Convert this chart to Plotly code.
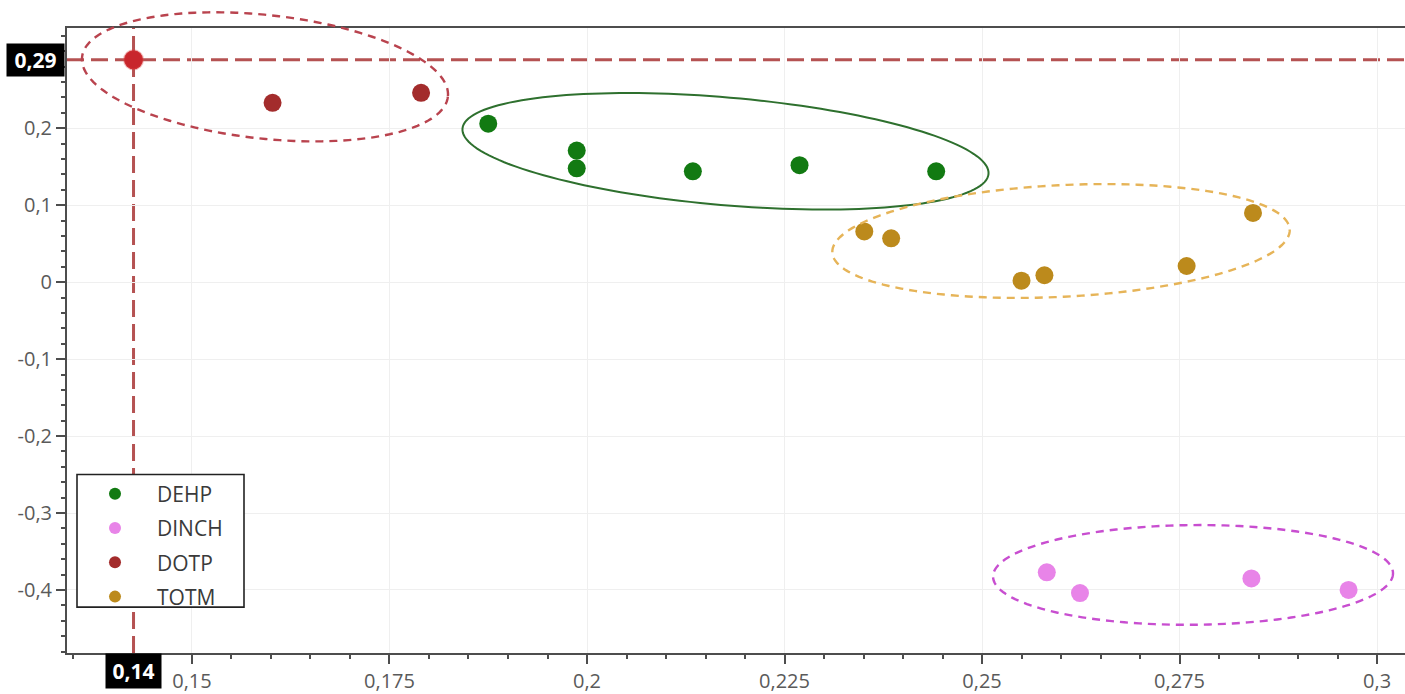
import math
import plotly.graph_objects as go

# ---------------- data ----------------
DEHP_x = [0.1875, 0.1987, 0.1987, 0.2134, 0.2269, 0.2442]
DEHP_y = [0.206, 0.171, 0.148, 0.144, 0.152, 0.144]
DINCH_x = [0.2582, 0.2624, 0.2841, 0.2964]
DINCH_y = [-0.377, -0.404, -0.385, -0.400]
DOTP_x = [0.1426, 0.1602, 0.1790]
DOTP_y = [0.289, 0.233, 0.246]
TOTM_x = [0.2351, 0.2385, 0.2550, 0.2579, 0.2759, 0.2843]
TOTM_y = [0.066, 0.057, 0.002, 0.009, 0.021, 0.090]

X_TICKS = [0.15, 0.175, 0.2, 0.225, 0.25, 0.275, 0.3]
X_TICKTEXT = ["0,15", "0,175", "0,2", "0,225", "0,25", "0,275", "0,3"]
Y_TICKS = [-0.4, -0.3, -0.2, -0.1, 0.0, 0.1, 0.2]
Y_TICKTEXT = ["-0,4", "-0,3", "-0,2", "-0,1", "0", "0,1", "0,2"]

# ---------------- layout geometry ----------------
FIG_W, FIG_H = 1405, 694
M_L, M_R, M_T, M_B = 67, 0, 28, 39
PLOT_W = FIG_W - M_L - M_R
PLOT_H = FIG_H - M_T - M_B
X_RANGE = [0.13418, 0.30354]
Y_RANGE = [-0.4819, 0.3303]


def to_px(x, y):
    px = M_L + (x - X_RANGE[0]) / (X_RANGE[1] - X_RANGE[0]) * PLOT_W
    py = M_T + (Y_RANGE[1] - y) / (Y_RANGE[1] - Y_RANGE[0]) * PLOT_H
    return px, py


def px_to_paper(px, py):
    return (px - M_L) / PLOT_W, (M_T + PLOT_H - py) / PLOT_H


def ellipse_path(cx, cy, a, b, theta_deg, n=160):
    cpx, cpy = to_px(cx, cy)
    t = math.radians(theta_deg)
    pts = []
    for i in range(n):
        phi = 2 * math.pi * i / n
        ex, ey = a * math.cos(phi), b * math.sin(phi)
        px = cpx + ex * math.cos(t) - ey * math.sin(t)
        py = cpy + ex * math.sin(t) + ey * math.cos(t)
        pts.append(px_to_paper(px, py))
    return "M " + " L ".join(f"{x:.5f},{y:.5f}" for x, y in pts) + " Z"


COLORS = {"DEHP": "#127a12", "DINCH": "#e884e8", "DOTP": "#a32c2c", "TOTM": "#bc8a1c"}

series = [("DEHP", DEHP_x, DEHP_y), ("DINCH", DINCH_x, DINCH_y),
          ("DOTP", DOTP_x, DOTP_y), ("TOTM", TOTM_x, TOTM_y)]

fig = go.Figure()
for i, (name, xs, ys) in enumerate(series):
    fig.add_trace(go.Scatter(
        x=xs, y=ys, mode="markers", name=name, legendgroup=name,
        marker=dict(size=18, color=COLORS[name], line=dict(width=0)),
    ))

# highlighted (selected) point
fig.add_trace(go.Scatter(
    x=[DOTP_x[0]], y=[DOTP_y[0]], mode="markers", showlegend=False,
    marker=dict(size=19, color="#c8262c", line=dict(width=2, color="rgba(220,70,70,0.35)")),
))

# ---------------- shapes ----------------
shapes = []
cross = dict(color="rgba(168,52,52,0.85)", width=3, dash="17px,7px")
shapes.append(dict(type="line", xref="x", yref="paper", x0=DOTP_x[0], x1=DOTP_x[0],
                   y0=0, y1=1, line=cross, layer="below"))
shapes.append(dict(type="line", xref="paper", yref="y", x0=0, x1=1,
                   y0=DOTP_y[0], y1=DOTP_y[0], line=cross, layer="below"))

ELLIPSES = [
    # center x, center y (data), semi-axes (px), rotation (deg), line style
    (0.15924, 0.26684, 184, 62, 6.2, dict(color="#b9434e", width=2.4, dash="8px,6px")),
    (0.21753, 0.17008, 264, 54, 4.95, dict(color="#2e702e", width=2)),
    (0.26000, 0.05350, 229, 56, -2.9, dict(color="#e6b458", width=2.4, dash="8px,6px")),
    (0.27671, -0.38044, 200, 50, -0.5, dict(color="#c84ed0", width=2.4, dash="8px,6px")),
]
for cx, cy, a, b, th, ln in ELLIPSES:
    shapes.append(dict(type="path", xref="paper", yref="paper",
                       path=ellipse_path(cx, cy, a, b, th), line=ln,
                       fillcolor="rgba(0,0,0,0)", layer="above"))

# legend box
lx0, ly0 = px_to_paper(77, 609)
lx1, ly1 = px_to_paper(244, 476)
shapes.append(dict(type="rect", xref="paper", yref="paper", x0=lx0, y0=ly0, x1=lx1, y1=ly1,
                   line=dict(color="#222222", width=1.6), fillcolor="white", layer="above"))

# ---------------- annotations (crosshair readouts) ----------------
readout_font = dict(family="Open Sans", size=21, color="white")
annotations = [
    dict(xref="paper", yref="y", x=-2 / PLOT_W, y=DOTP_y[0], xanchor="right", yanchor="middle",
         text="<b>" + f"{DOTP_y[0]:.2f}".replace(".", ",") + "</b>", showarrow=False,
         bgcolor="black", font=readout_font, width=55, height=30, borderpad=1),
    dict(xref="x", yref="paper", x=DOTP_x[0], y=0, xanchor="center", yanchor="top",
         text="<b>" + f"{DOTP_x[0]:.2f}".replace(".", ",") + "</b>", showarrow=False,
         bgcolor="black", font=readout_font, width=53, height=32, borderpad=1),
]

axis_common = dict(
    showgrid=True, gridcolor="#efefef", gridwidth=1, zeroline=False,
    showline=True, linecolor="#4d4d4d", linewidth=2,
    ticks="outside", ticklen=9, tickwidth=1.5, tickcolor="#4d4d4d",
    tickfont=dict(family="Open Sans", size=20, color="#5a5a5a"),
)

fig.update_layout(
    width=FIG_W, height=FIG_H,
    margin=dict(l=M_L, r=M_R, t=M_T, b=M_B, pad=0),
    paper_bgcolor="white", plot_bgcolor="white",
    xaxis=dict(range=X_RANGE, tickmode="array", tickvals=X_TICKS, ticktext=X_TICKTEXT,
               mirror=True,
               minor=dict(tickmode="linear", tick0=0, dtick=0.005, ticks="outside", ticklen=4,
                          tickwidth=1.5, tickcolor="#4d4d4d", showgrid=False),
               **axis_common),
    yaxis=dict(range=Y_RANGE, tickmode="array", tickvals=Y_TICKS, ticktext=Y_TICKTEXT,
               mirror=False,
               minor=dict(tickmode="linear", tick0=0, dtick=0.02, ticks="outside", ticklen=4,
                          tickwidth=1.5, tickcolor="#4d4d4d", showgrid=False),
               **axis_common),
    showlegend=True,
    legend=dict(x=px_to_paper(73, 0)[0], y=px_to_paper(0, 475)[1], xanchor="left", yanchor="top",
                bgcolor="rgba(0,0,0,0)", borderwidth=0, itemwidth=74,
                traceorder="grouped", tracegroupgap=4, itemsizing="constant",
                font=dict(family="Open Sans", size=21, color="#3a3a3a")),
    shapes=shapes,
    annotations=annotations,
)

fig.write_html("out.html")
